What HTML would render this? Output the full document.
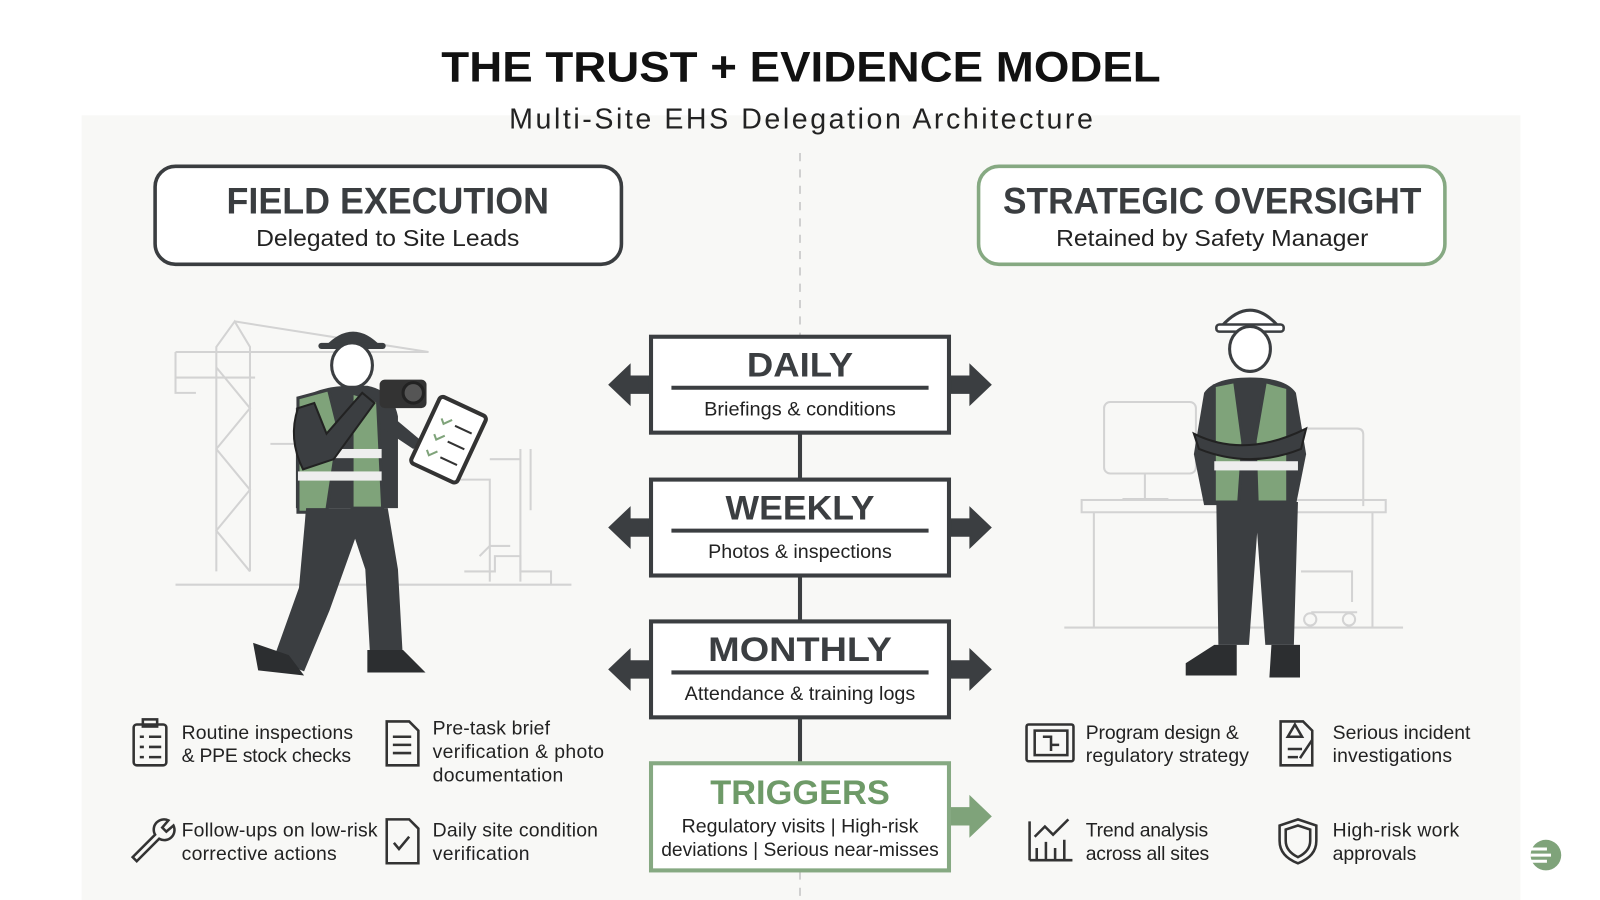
<!DOCTYPE html>
<html><head><meta charset="utf-8"><style>
html,body{margin:0;padding:0;background:#fff;}
svg{display:block;}
text{font-family:"Liberation Sans",sans-serif;}
</style></head><body>
<svg width="1600" height="900" viewBox="0 0 1568 882" preserveAspectRatio="none" xmlns="http://www.w3.org/2000/svg">
<rect width="1568" height="882" fill="#fff"/>
<rect x="80" y="113" width="1410" height="769" fill="#f8f8f6"/>
<line x1="784" y1="150" x2="784" y2="882" stroke="#c4c4c4" stroke-width="1.5" stroke-dasharray="8,8"/>

<text x="785" y="80" text-anchor="middle" font-size="42" font-weight="bold" fill="#111" textLength="705" lengthAdjust="spacingAndGlyphs">THE TRUST + EVIDENCE MODEL</text>
<text x="785" y="126" text-anchor="middle" font-size="28" fill="#222" textLength="572" lengthAdjust="spacing">Multi-Site EHS Delegation Architecture</text>

<!-- header boxes -->
<rect x="152" y="163" width="457" height="96" rx="20" fill="#fff" stroke="#3a3d40" stroke-width="3.5"/>
<text x="380" y="209" text-anchor="middle" font-size="36" font-weight="bold" fill="#3a3d40" textLength="316" lengthAdjust="spacingAndGlyphs">FIELD EXECUTION</text>
<text x="380" y="241" text-anchor="middle" font-size="23" fill="#222" textLength="258" lengthAdjust="spacingAndGlyphs">Delegated to Site Leads</text>
<rect x="959" y="163" width="457" height="96" rx="20" fill="#fff" stroke="#86a982" stroke-width="3.5"/>
<text x="1188" y="209" text-anchor="middle" font-size="36" font-weight="bold" fill="#3a3d40" textLength="410" lengthAdjust="spacingAndGlyphs">STRATEGIC OVERSIGHT</text>
<text x="1188" y="241" text-anchor="middle" font-size="23" fill="#222" textLength="306" lengthAdjust="spacingAndGlyphs">Retained by Safety Manager</text>

<!-- background line art left -->
<g stroke="#d3d3d3" stroke-width="2" fill="none">
<path d="M212 560 V340 L230 315 L245 340 V560 M172 345 H420 M172 370 H250 M172 345 V385 H192 M212 360 L245 400 L212 440 L245 480 L212 520 L245 560 M230 315 L420 345"/>
<path d="M265 435 H300 V570 M440 470 H480 V570 M480 450 H510 V570 M510 440 V570 M520 440 V500 M172 573 H560"/>
<path d="M455 560 h30 v-15 h25 v15 h30 v13 M470 545 l10 -10 h20"/>
</g>
<!-- background right: desk/monitor -->
<g stroke="#d3d3d3" stroke-width="2" fill="none">
<rect x="1082" y="394" width="90" height="70" rx="6"/>
<path d="M1122 464 v25 M1100 489 h45"/>
<rect x="1060" y="490" width="298" height="12"/>
<path d="M1072 502 V615 M1345 502 V615 M1043 615 H1375"/>
<path d="M1280 420 h50 q6 0 6 6 v70 M1275 560 h50 v30 M1285 600 h45"/>
<circle cx="1284" cy="607" r="6"/><circle cx="1322" cy="607" r="6"/>
</g>

<!-- left worker -->
<g>
<path d="M318 340 q28-30 56 0 z" fill="#3b3e41"/>
<rect x="312" y="336" width="66" height="6" rx="3" fill="#3b3e41"/>
<ellipse cx="345" cy="358" rx="20" ry="22" fill="#fff" stroke="#3b3e41" stroke-width="3"/>
<path d="M290 400 q10-20 50-22 h20 q25 5 30 30 v90 h-100 z" fill="#3b3e41"/>
<path d="M292 390 l30 -8 l10 40 l-12 80 h-28 z M345 385 l25 8 l5 105 h-30 z" fill="#7fa37a" stroke="#3b3e41" stroke-width="3"/>
<rect x="292" y="440" width="82" height="9" fill="#eee"/>
<rect x="292" y="462" width="82" height="9" fill="#eee"/>
<path d="M292 400 q-10 30 5 60 l30 -10 l40 -55 l-12 -10 l-35 40 l-12 -30 z" fill="#3b3e41" stroke="#222" stroke-width="2"/>
<path d="M375 420 l30 20 l8 -8 l-30 -25 z" fill="#3b3e41"/>
<path d="M300 498 h80 l10 60 l5 90 h-32 l-5 -90 l-10 -30 l-25 70 l-25 60 l-30 -12 l25 -70 z" fill="#3b3e41"/>
<path d="M248 630 l35 12 l15 20 l-45 -5 z M360 637 h35 l22 22 h-57 z" fill="#2c2e30"/>
<rect x="372" y="372" width="46" height="28" rx="5" fill="#333"/>
<circle cx="405" cy="385" r="10" fill="#555" stroke="#222" stroke-width="3"/>
<g transform="rotate(25 440 430)"><rect x="415" y="395" width="50" height="72" rx="4" fill="#fff" stroke="#333" stroke-width="4"/>
<path d="M425 415 l4 4 l6 -7 M425 432 l4 4 l6 -7 M425 449 l4 4 l6 -7" stroke="#7fa37a" stroke-width="2" fill="none"/>
<path d="M440 416 h18 M440 433 h18 M440 450 h18" stroke="#333" stroke-width="2"/></g>
</g>

<!-- right worker -->
<g>
<path d="M1197 320 q28-32 56 0 z" fill="#fff" stroke="#3b3e41" stroke-width="3"/>
<rect x="1192" y="318" width="66" height="7" rx="3" fill="#fff" stroke="#3b3e41" stroke-width="2.5"/>
<ellipse cx="1225" cy="342" rx="20" ry="22" fill="#fff" stroke="#3b3e41" stroke-width="3"/>
<path d="M1180 385 q10-15 45-15 q35 0 45 15 l10 60 l-10 50 h-90 l-10-50 z" fill="#3b3e41"/>
<path d="M1190 378 l20 -4 l8 60 l-4 58 h-24 z M1240 374 l22 6 v112 h-30 l-2-60 z" fill="#7fa37a" stroke="#3b3e41" stroke-width="3"/>
<rect x="1190" y="452" width="82" height="9" fill="#eee"/>
<path d="M1170 425 q50 25 110 -5 l-5 20 q-50 20 -100 0 z" fill="#3b3e41" stroke="#222" stroke-width="2"/>
<path d="M1192 492 h80 l-4 140 h-28 l-8 -110 l-8 110 h-30 z" fill="#3b3e41"/>
<path d="M1162 650 l28 -18 h22 v30 h-50 z M1246 632 h28 v32 h-30 z" fill="#2c2e30"/>
</g>

<!-- connectors -->
<g stroke="#3b3e41" stroke-width="4">
<line x1="784" y1="424" x2="784" y2="470"/><line x1="784" y1="564" x2="784" y2="609"/><line x1="784" y1="703" x2="784" y2="748"/>
</g>
<!-- arrows -->
<g fill="#3b3e41">
<path d="M638 368 h-20 v-12 l-22 21 l22 21 v-12 h20 z"/>
<path d="M930 368 h20 v-12 l22 21 l-22 21 v-12 h-20 z"/>
<path d="M638 508 h-20 v-12 l-22 21 l22 21 v-12 h20 z"/>
<path d="M930 508 h20 v-12 l22 21 l-22 21 v-12 h-20 z"/>
<path d="M638 647 h-20 v-12 l-22 21 l22 21 v-12 h20 z"/>
<path d="M930 647 h20 v-12 l22 21 l-22 21 v-12 h-20 z"/>
</g>
<path d="M930 791 h20 v-12 l22 21 l-22 21 v-12 h-20 z" fill="#7fa37a"/>

<!-- center boxes -->
<g fill="#fff" stroke="#3b3e41" stroke-width="4">
<rect x="638" y="330" width="292" height="94"/>
<rect x="638" y="470" width="292" height="94"/>
<rect x="638" y="609" width="292" height="94"/>
</g>
<rect x="638" y="748" width="292" height="105" fill="#fff" stroke="#86a982" stroke-width="4"/>
<g stroke="#3b3e41" stroke-width="4">
<line x1="658" y1="380" x2="910" y2="380"/><line x1="658" y1="520" x2="910" y2="520"/><line x1="658" y1="659" x2="910" y2="659"/>
</g>
<g text-anchor="middle" fill="#3b3e41">
<text x="784" y="369" font-size="34" font-weight="bold" textLength="104" lengthAdjust="spacingAndGlyphs">DAILY</text>
<text x="784" y="407" font-size="19" fill="#222" textLength="188" lengthAdjust="spacingAndGlyphs">Briefings &amp; conditions</text>
<text x="784" y="509" font-size="34" font-weight="bold" textLength="146" lengthAdjust="spacingAndGlyphs">WEEKLY</text>
<text x="784" y="547" font-size="19" fill="#222" textLength="180" lengthAdjust="spacingAndGlyphs">Photos &amp; inspections</text>
<text x="784" y="648" font-size="34" font-weight="bold" textLength="180" lengthAdjust="spacingAndGlyphs">MONTHLY</text>
<text x="784" y="686" font-size="19" fill="#222" textLength="226" lengthAdjust="spacingAndGlyphs">Attendance &amp; training logs</text>
<text x="784" y="788" font-size="34" font-weight="bold" fill="#6e9a68" textLength="176" lengthAdjust="spacingAndGlyphs">TRIGGERS</text>
<text x="784" y="816" font-size="19" fill="#222" textLength="232" lengthAdjust="spacingAndGlyphs">Regulatory visits | High-risk</text>
<text x="784" y="839" font-size="19" fill="#222" textLength="272" lengthAdjust="spacingAndGlyphs">deviations | Serious near-misses</text>
</g>

<!-- icons -->
<g stroke="#333" stroke-width="2.5" fill="none">
<rect x="131" y="710" width="32" height="40" rx="3"/><rect x="140" y="705" width="14" height="7"/>
<path d="M137 722 h4 M146 722 h12 M137 732 h4 M146 732 h12 M137 742 h4 M146 742 h12"/>
<path d="M379 707 h22 l9 9 v34 h-31 z M385 722 h18 M385 730 h18 M385 738 h18"/>
<path d="M130 840 l22 -22 a10 10 0 0 1 13 -14 l-6 7 l4 4 l7 -6 a10 10 0 0 1 -14 13 l-22 22 z"/>
<path d="M379 803 h22 l9 9 v34 h-31 z M386 826 l5 6 l10 -12"/>
<rect x="1006" y="710" width="46" height="36" rx="2"/><rect x="1014" y="716" width="32" height="24"/>
<path d="M1022 722 h8 v8 h8 M1030 730 v6"/>
<path d="M1255 707 h22 l9 9 v34 h-31 z M1262 722 l7 -12 l7 12 z M1262 734 h14 M1262 742 h10 M1286 725 l-12 18"/>
<path d="M1009 843 V805 M1009 843 h42 M1014 820 l10 -10 l8 8 l15 -15 M1016 843 v-12 M1025 843 v-18 M1034 843 v-12 M1043 843 v-20"/>
<path d="M1272 803 l18 6 v15 q0 15 -18 22 q-18 -7 -18 -22 v-15 z M1272 809 l12 4 v11 q0 10 -12 16 q-12 -6 -12 -16 v-11 z"/>
</g>

<!-- bullet text -->
<g font-size="19" fill="#222" lengthAdjust="spacingAndGlyphs">
<text x="178" y="724" textLength="168">Routine inspections</text><text x="178" y="747" textLength="166">&amp; PPE stock checks</text>
<text x="424" y="720" textLength="115">Pre-task brief</text><text x="424" y="743" textLength="168">verification &amp; photo</text><text x="424" y="766" textLength="128">documentation</text>
<text x="178" y="820" textLength="192">Follow-ups on low-risk</text><text x="178" y="843" textLength="152">corrective actions</text>
<text x="424" y="820" textLength="162">Daily site condition</text><text x="424" y="843" textLength="95">verification</text>
<text x="1064" y="724" textLength="150">Program design &amp;</text><text x="1064" y="747" textLength="160">regulatory strategy</text>
<text x="1306" y="724" textLength="135">Serious incident</text><text x="1306" y="747" textLength="117">investigations</text>
<text x="1064" y="820" textLength="120">Trend analysis</text><text x="1064" y="843" textLength="121">across all sites</text>
<text x="1306" y="820" textLength="124">High-risk work</text><text x="1306" y="843" textLength="82">approvals</text>
</g>

<!-- logo -->
<circle cx="1515" cy="838" r="15" fill="#7fa37a"/>
<g stroke="#fff" stroke-width="3"><line x1="1500" y1="832" x2="1516" y2="832"/><line x1="1500" y1="838" x2="1520" y2="838"/><line x1="1500" y1="844" x2="1516" y2="844"/></g>
</svg>
</body></html>
